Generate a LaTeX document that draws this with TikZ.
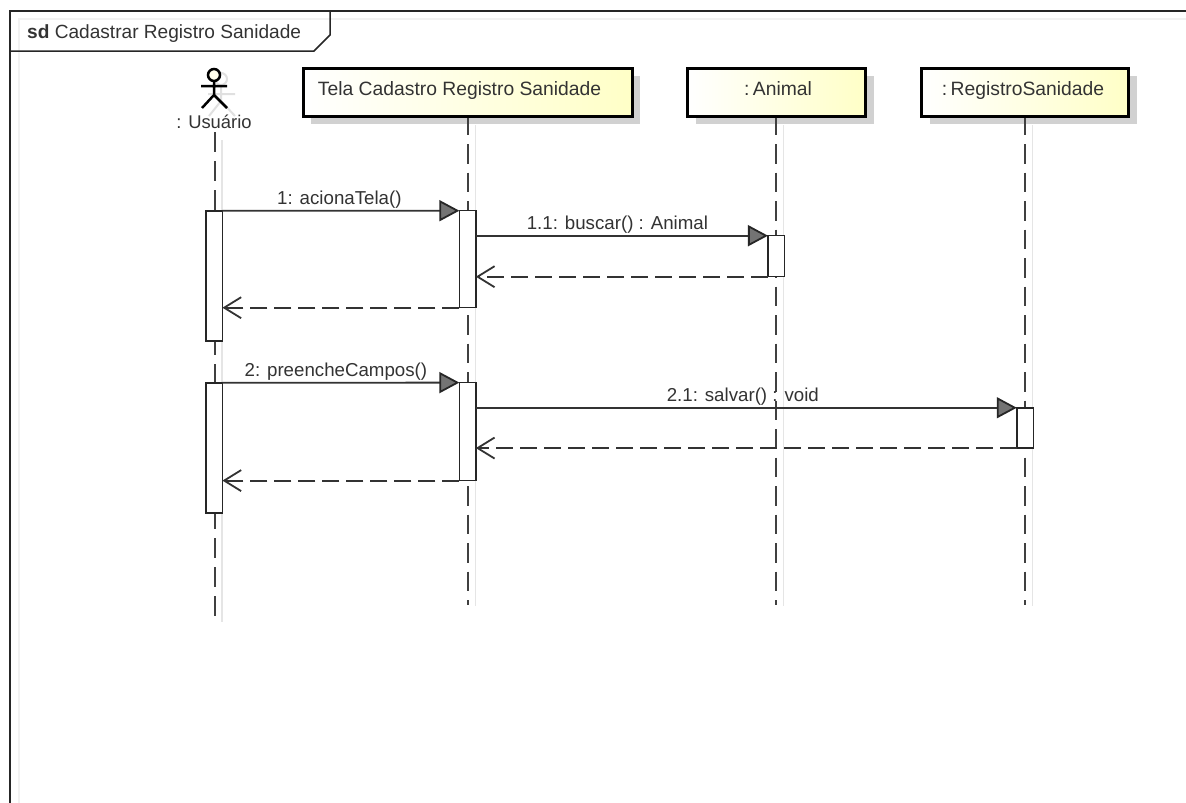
\documentclass[tikz,border=0pt]{standalone}
\usepackage{fontspec}
\setmainfont{Liberation Sans}
\usepackage{tikz}
\usetikzlibrary{arrows.meta,shadows}

\tikzset{
  headbox/.style={draw=black,line width=3pt,left color=white,right color=yellow!22,minimum height=48pt,inner sep=0pt,text height=14pt,text depth=8pt,font=\fontsize{19.3}{22}\selectfont,text=black!80,drop shadow={shadow xshift=8pt,shadow yshift=-8pt,fill=black!18,opacity=1}},
  actbox/.style={draw=black!85,line width=1.5pt,fill=white,minimum width=16.5pt,inner sep=0pt,outer sep=0pt},
  lifeline/.style={draw=black!75,line width=2pt,dash pattern=on 19.5pt off 9pt,dash phase=2pt},
  lifeshadow/.style={draw=black!10,line width=1.5pt},
  msg/.style={draw=black!80,line width=1.8pt,-{Triangle[length=20pt,width=21pt,fill=black!55,color=black!85]}},
  ret/.style={draw=black!80,line width=1.8pt,dash pattern=on 17pt off 7pt,-{Straight Barb[length=17pt,width=21pt]}},
  msglabel/.style={font=\fontsize{18.7}{21}\selectfont,text=black!80,inner sep=1pt}
}

\begin{document}
\begin{tikzpicture}[x=1pt,y=-1pt]
\useasboundingbox (0,0) rectangle (1186,803);
\fill[white] (0,0) rectangle (1186,803);

% frame
\draw[black!5,line width=1.5pt] (19,803) -- (19,19) -- (1186,19);
\draw[black!85,line width=1.5pt] (10,803) -- (10,11) -- (1186,11);
\draw[black!85,line width=1.5pt] (330,11) -- (330,35) -- (314,51) -- (10,51);
\node (frametitle) [anchor=west,font=\fontsize{19.1}{22}\selectfont,text=black!80,inner sep=0pt] at (27,33.5) {\textbf{sd} Cadastrar Registro Sanidade};

% heads
\node (tela) [headbox,minimum width=329pt] at (467.6,92.2) {\hspace*{-16pt}Tela Cadastro Registro Sanidade};
\node (animal) [headbox,minimum width=178pt] at (776.5,92.2) {\hspace*{3pt}:\hspace{3.5pt}Animal};
\node (registro) [headbox,minimum width=207pt] at (1025,92.2) {\hspace*{-4pt}:\hspace{3.5pt}RegistroSanidade};
\node (usuario) [font=\fontsize{18.4}{21}\selectfont,text=black!80,inner sep=0pt] at (214,122) {: Usuário};

% actor
\draw[black!12,line width=2pt] (221,79) circle (6pt) (221,87) -- (221,101) (208,94) -- (235,94) (221,101) -- (209,116) (221,101) -- (235,116);
\draw[black,line width=2.5pt,fill=yellow!8] (214,75) circle (6pt);
\draw[black,line width=2.5pt] (214,81) -- (214,95) (201,86) -- (227,86) (214,95) -- (202,108) (214,95) -- (227,108);

% lifelines
\coordinate (usuarioend) at (215,616);
\coordinate (telaend) at (468,605);
\coordinate (animalend) at (776,605);
\coordinate (registroend) at (1025,605);
\draw[lifeshadow] (222,140) -- (222,622);
\draw[lifeshadow] (475.5,125) -- (475.5,606);
\draw[lifeshadow] (783.5,125) -- (783.5,606);
\draw[lifeshadow] (1032.5,125) -- (1032.5,606);
\draw[lifeline,dash pattern=on 19.5pt off 9.5pt,dash phase=0pt] (215,132) -- (usuarioend);
\draw[lifeline] (tela.south -| telaend) -- (telaend);
\draw[lifeline] (animal.south -| animalend) -- (animalend);
\draw[lifeline] (registro.south) -- (registroend);

% activations
\node (usuarioA) [actbox,minimum height=130pt] at (214.2,275.8) {};
\node (usuarioB) [actbox,minimum height=130pt] at (214.2,447.8) {};
\node (telaA) [actbox,minimum height=97pt] at (467.6,259.2) {};
\node (telaB) [actbox,minimum height=98pt] at (467.6,431.6) {};
\node (animalA) [actbox,minimum height=41pt] at (776.2,256.2) {};
\node (registroA) [actbox,minimum height=40.3pt] at (1025,427.9) {};

% messages
\draw[msg] (usuarioA.north east) -- (telaA.north west) node[midway,above,msglabel,xshift=-1.5pt]{1: acionaTela()};
\draw[msg] (telaA.east |- animalA.north) -- (animalA.north west) node[midway,above,msglabel,xshift=-4.5pt]{1.1: buscar() : Animal};
\draw[ret] (animalA.south west) -- (telaA.east |- animalA.south);
\draw[ret] (telaA.south west) -- (usuarioA.east |- telaA.south);
\draw[msg] (usuarioB.north east) -- (telaB.north west) node[midway,above,msglabel,xshift=-5pt]{2: preencheCampos()};
\draw[msg] (telaB.east |- registroA.north) -- (registroA.north west) node[midway,above,msglabel,xshift=-3.5pt]{2.1: salvar() : void};
\draw[ret] (registroA.south west) -- (telaB.east |- registroA.south);
\draw[ret] (telaB.south west) -- (usuarioB.east |- telaB.south);
\end{tikzpicture}
\end{document}
